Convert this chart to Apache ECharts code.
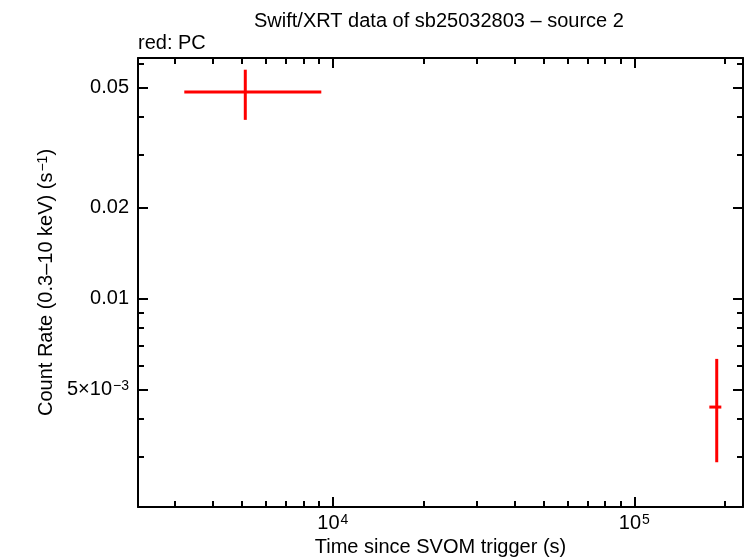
<!DOCTYPE html>
<html>
<head>
<meta charset="utf-8">
<script src="https://cdn.jsdelivr.net/npm/echarts@6/dist/echarts.min.js"></script>
<style>
  html, body { margin: 0; padding: 0; background: #fff; }
  #chart { width: 746px; height: 558px; }
</style>
</head>
<body>
<div id="chart"></div>
<script>
// PC points: time (s) with x errors, count rate with y errors
const timeMid = [5126, 187700]
const timeLo = [3217, 177400]
const timeHi = [9160, 194400]
const rate = [0.04838, 0.004377]
const rateLo = [0.03915, 0.002873]
const rateHi = [0.0574, 0.006321]

// ticks
const xMajor = [1e4, 1e5]
const xMajorLabels = ['10{sup|4}', '10{sup|5}']
const xMinor = [3000, 4000, 5000, 6000, 7000, 8000, 9000,
  20000, 30000, 40000, 50000, 60000, 70000, 80000, 90000, 200000]
const yMajor = [0.05, 0.02, 0.01, 0.005]
const yMajorLabels = ['0.05', '0.02', '0.01', '5×10{sup|−3}']
const yMinor = [0.06, 0.04, 0.03, 0.009, 0.008, 0.007, 0.006, 0.004, 0.003]

const X_MIN = 2259, X_MAX = 229400
const Y_MIN = 0.002042, Y_MAX = 0.06276

const FONT = 'Liberation Sans, Arial, Helvetica, sans-serif'
const RED = '#ff0000'

const rich = {
  sup: { fontSize: 14, fontFamily: FONT, color: '#000', verticalAlign: 'top', padding: [0, 0, 6, 1] }
}

function pickLabel(values, labels) {
  return v => {
    let best = 0
    values.forEach((t, i) => {
      if (Math.abs(Math.log10(t) - Math.log10(v)) < Math.abs(Math.log10(values[best]) - Math.log10(v))) best = i
    })
    return labels[best]
  }
}

function xAxisDef(pos, ticks, len, withLabel, withLine) {
  return {
    type: 'log', logBase: 10, min: X_MIN, max: X_MAX, position: pos,
    axisLine: { show: withLine, onZero: false, lineStyle: { color: '#000', width: 2 } },
    axisTick: { show: true, inside: true, length: len, customValues: ticks, lineStyle: { color: '#000', width: 2 } },
    axisLabel: withLabel ? {
      show: true, customValues: xMajor, margin: 6, fontSize: 20, fontFamily: FONT, color: '#000',
      formatter: pickLabel(xMajor, xMajorLabels), rich: rich
    } : { show: false },
    splitLine: { show: false },
    minorTick: { show: false }
  }
}

function yAxisDef(pos, ticks, len, withLabel, withLine) {
  return {
    type: 'log', logBase: 10, min: Y_MIN, max: Y_MAX, position: pos,
    axisLine: { show: withLine, onZero: false, lineStyle: { color: '#000', width: 2 } },
    axisTick: { show: true, inside: true, length: len, customValues: ticks, lineStyle: { color: '#000', width: 2 } },
    axisLabel: withLabel ? {
      show: true, customValues: yMajor, margin: 9, fontSize: 20, fontFamily: FONT, color: '#000',
      formatter: pickLabel(yMajor, yMajorLabels), rich: rich
    } : { show: false },
    splitLine: { show: false },
    minorTick: { show: false }
  }
}

const xAxes = [
  xAxisDef('bottom', xMajor, 10, true, true),
  xAxisDef('bottom', xMinor, 6, false, false),
  xAxisDef('top', xMajor, 10, false, true),
  xAxisDef('top', xMinor, 6, false, false)
]
xAxes[0].name = 'Time since SVOM trigger (s)'
xAxes[0].nameLocation = 'middle'
xAxes[0].nameGap = 30
xAxes[0].nameTextStyle = { fontSize: 20, fontFamily: FONT, color: '#000' }

const yAxes = [
  yAxisDef('left', yMajor, 10, true, true),
  yAxisDef('left', yMinor, 6, false, false),
  yAxisDef('right', yMajor, 10, false, true),
  yAxisDef('right', yMinor, 6, false, false)
]
yAxes[0].name = 'Count Rate (0.3–10 keV) (s{sup|−1})'
yAxes[0].nameLocation = 'middle'
yAxes[0].nameGap = 82
yAxes[0].nameTextStyle = { fontSize: 20, fontFamily: FONT, color: '#000', rich: rich }

const points = timeMid.map((t, i) => [t, rate[i], timeLo[i], timeHi[i], rateLo[i], rateHi[i]])

const chart = echarts.init(document.getElementById('chart'))
chart.setOption({
  animation: false,
  backgroundColor: '#fff',
  title: [
    { text: 'Swift/XRT data of sb25032803 – source 2', left: 249, top: 6,
      textStyle: { fontSize: 20, fontWeight: 'normal', fontFamily: FONT, color: '#000' } },
    { text: 'red: PC', left: 133, top: 28,
      textStyle: { fontSize: 20, fontWeight: 'normal', fontFamily: FONT, color: '#000' } }
  ],
  grid: { left: 138, right: 3, top: 58, bottom: 51, containLabel: false, outerBoundsMode: 'none' },
  xAxis: xAxes,
  yAxis: yAxes,
  series: [{
    type: 'custom',
    xAxisIndex: 0,
    yAxisIndex: 0,
    data: points,
    encode: { x: 0, y: 1 },
    renderItem: (params, api) => {
      const x = api.value(0), y = api.value(1)
      const l = api.coord([api.value(2), y])
      const r = api.coord([api.value(3), y])
      const b = api.coord([x, api.value(4)])
      const t = api.coord([x, api.value(5)])
      return {
        type: 'group',
        children: [
          { type: 'line', shape: { x1: l[0], y1: l[1], x2: r[0], y2: r[1] }, style: { stroke: RED, lineWidth: 3 } },
          { type: 'line', shape: { x1: b[0], y1: b[1], x2: t[0], y2: t[1] }, style: { stroke: RED, lineWidth: 3 } }
        ]
      }
    }
  }]
})
</script>
</body>
</html>
